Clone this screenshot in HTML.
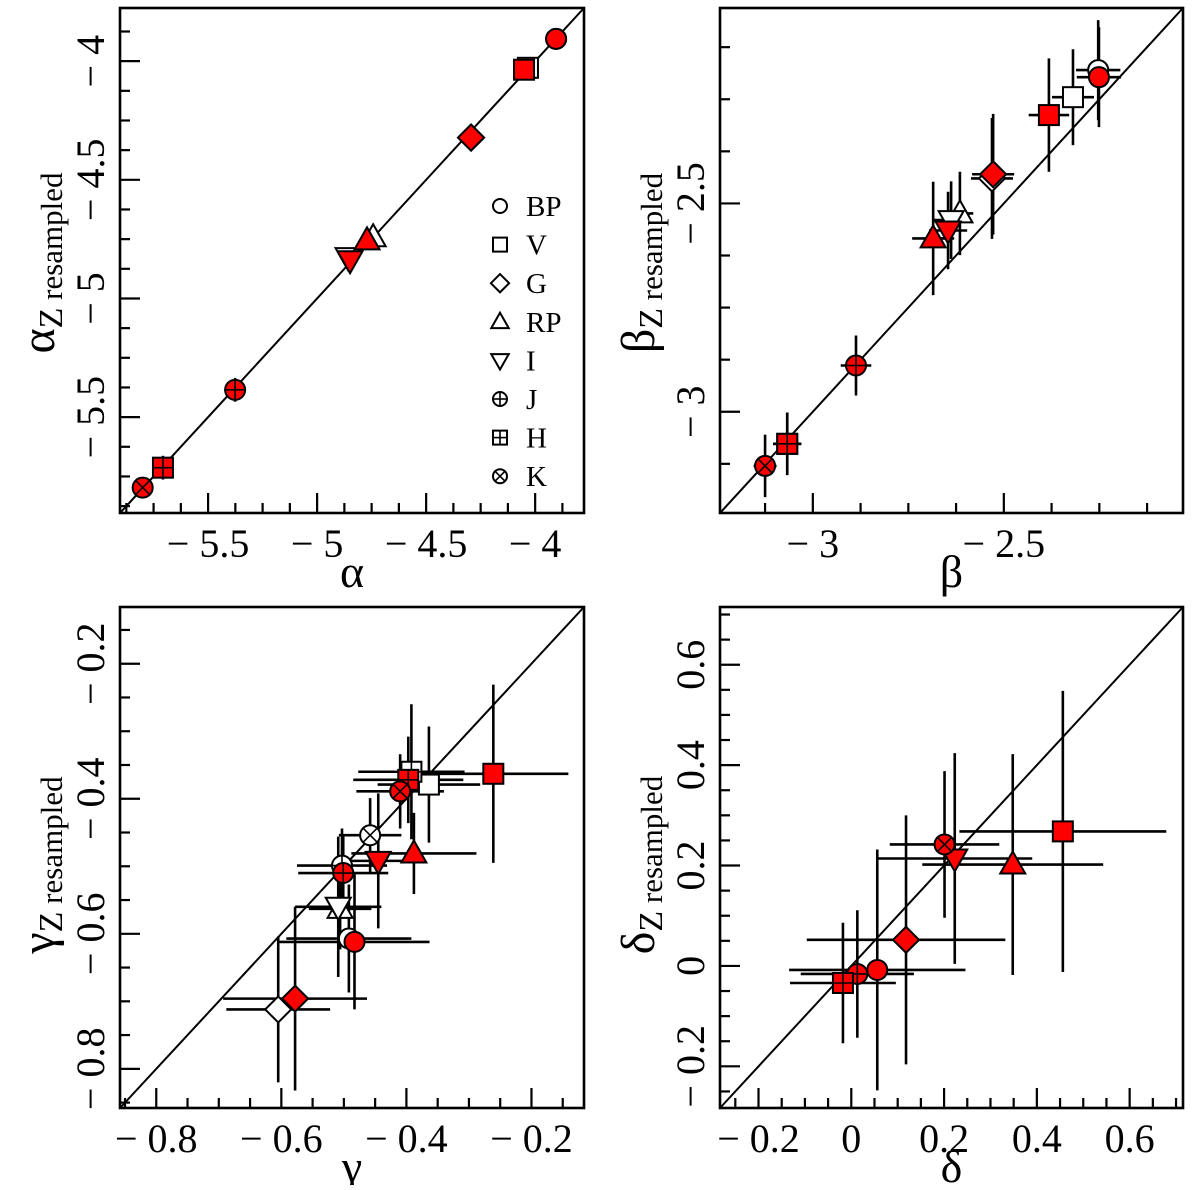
<!DOCTYPE html>
<html><head><meta charset="utf-8"><style>
html,body{margin:0;padding:0;background:#fff;}
svg, svg text{font-family:"Liberation Serif","Times New Roman",serif;}
</style></head><body>
<svg id="fig" width="1200" height="1185" viewBox="0 0 1200 1185" xmlns="http://www.w3.org/2000/svg" font-family="Liberation Serif, serif"></svg>
<script>
// ---- data: alpha panel ----
const aBand=["BP","BP","V","V","G","G","RP","RP","I","I","J","H","K"];
const aFill=[0,1,0,1,0,1,0,1,0,1,1,1,1];
const aX=[-3.904,-3.904,-4.033,-4.051,-4.294,-4.294,-4.743,-4.771,-4.858,-4.849,-5.376,-5.707,-5.80];
const aY=[-3.906,-3.906,-4.028,-4.036,-4.322,-4.322,-4.742,-4.755,-4.826,-4.839,-5.385,-5.713,-5.797];
const aXe=[0.02,0.02,0.02,0.02,0.02,0.02,0.02,0.02,0.02,0.02,0.05,0.05,0.03];
const aYe=[0.02,0.02,0.02,0.02,0.02,0.02,0.02,0.02,0.02,0.02,0.05,0.05,0.04];
// ---- data: beta panel ----
const bBand=["BP","BP","V","V","G","G","RP","RP","I","I","J","H","H","K"];
const bFill=[0,1,0,1,0,1,0,1,0,1,1,0,1,1];
const bX=[-2.253,-2.251,-2.319,-2.382,-2.531,-2.528,-2.615,-2.685,-2.638,-2.646,-2.887,-3.067,-3.067,-3.125];
const bY=[-2.180,-2.197,-2.245,-2.288,-2.44,-2.430,-2.524,-2.584,-2.540,-2.565,-2.889,-3.077,-3.077,-3.13];
const bXe=[0.058,0.058,0.055,0.053,0.055,0.055,0.035,0.055,0.05,0.05,0.04,0.037,0.037,0.03];
const bYe=[0.12,0.12,0.115,0.136,0.145,0.145,0.1,0.136,0.093,0.093,0.072,0.075,0.075,0.075];
// ---- data: gamma panel ----
const gBand=["V","V","H","H","K","K","RP","RP","I","I","J","J","BP","BP","G","G"];
const gFill=[0,1,0,1,0,1,0,1,0,1,0,1,0,1,0,1];
const gX=[-0.364,-0.261,-0.392,-0.397,-0.458,-0.410,-0.506,-0.388,-0.509,-0.445,-0.503,-0.501,-0.492,-0.483,-0.605,-0.578];
const gY=[-0.379,-0.363,-0.36,-0.372,-0.454,-0.389,-0.563,-0.481,-0.560,-0.492,-0.499,-0.51,-0.607,-0.612,-0.712,-0.696];
const gXe=[0.082,0.12,0.085,0.088,0.05,0.07,0.05,0.1,0.069,0.051,0.072,0.072,0.1,0.12,0.083,0.115];
const gYe=[0.086,0.132,0.1,0.064,0.055,0.055,0.06,0.06,0.104,0.1,0.055,0.055,0.08,0.1,0.108,0.136];
// ---- data: delta panel ----
const dBand=["V","RP","I","K","G","BP","J","H"];
const dFill=[1,1,1,1,1,1,1,1];
const dX=[0.456,0.348,0.223,0.201,0.118,0.056,0.013,-0.018];
const dY=[0.268,0.202,0.214,0.242,0.052,-0.008,-0.016,-0.034];
const dXe=[0.223,0.195,0.167,0.118,0.214,0.19,0.122,0.114];
const dYe=[0.28,0.22,0.21,0.146,0.248,0.24,0.127,0.12];
// axis configs
const aTicks=[-5.5,-5,-4.5,-4], aTickLbl=["− 5.5","− 5","− 4.5","− 4"];
const bTicks=[-3,-2.5], bTickLbl=["− 3","− 2.5"];
const gTicks=[-0.8,-0.6,-0.4,-0.2], gTickLbl=["− 0.8","− 0.6","− 0.4","− 0.2"];
const dTicks=[-0.2,0,0.2,0.4,0.6], dTickLbl=["− 0.2","0","0.2","0.4","0.6"];
const legendBands=["BP","V","G","RP","I","J","H","K"];

const NS="http://www.w3.org/2000/svg";
const FF="Liberation Serif, Times New Roman, serif";
const svg=document.getElementById('fig');
function mk(tag,attrs,parent){const e=document.createElementNS(NS,tag);for(const k in attrs)e.setAttribute(k,attrs[k]);if(tag==='text')e.setAttribute('font-family',FF);(parent||svg).appendChild(e);return e;}

function marker(g,type,cx,cy,fill,s){
  const st={fill:fill?"#ff0000":"#fff",stroke:"#000","stroke-width":2};
  let m;
  const r=s;
  if(type==="BP"||type==="J"||type==="K"){m=mk('circle',Object.assign({cx:cx,cy:cy,r:r},st),g);}
  else if(type==="V"||type==="H"){m=mk('rect',Object.assign({x:cx-r,y:cy-r,width:2*r,height:2*r},st),g);}
  else if(type==="G"){m=mk('polygon',Object.assign({points:`${cx},${cy-r*1.3} ${cx+r*1.3},${cy} ${cx},${cy+r*1.3} ${cx-r*1.3},${cy}`},st),g);}
  else if(type==="RP"){m=mk('polygon',Object.assign({points:`${cx},${cy-r*1.3} ${cx+r*1.25},${cy+r*0.9} ${cx-r*1.25},${cy+r*0.9}`},st),g);}
  else if(type==="I"){m=mk('polygon',Object.assign({points:`${cx},${cy+r*1.3} ${cx+r*1.25},${cy-r*0.9} ${cx-r*1.25},${cy-r*0.9}`},st),g);}
  
  
  const ls={stroke:"#000","stroke-width":1.6};
  if(type==="J"||type==="H"){mk('line',Object.assign({x1:cx-r,y1:cy,x2:cx+r,y2:cy},ls),g);mk('line',Object.assign({x1:cx,y1:cy-r,x2:cx,y2:cy+r},ls),g);}
  if(type==="K"){const d=r*0.7;mk('line',Object.assign({x1:cx-d,y1:cy-d,x2:cx+d,y2:cy+d},ls),g);mk('line',Object.assign({x1:cx-d,y1:cy+d,x2:cx+d,y2:cy-d},ls),g);}
}

function panel(o){
  const g=mk('g',{});
  
  
  const X=v=>o.x0+(v-o.lo)/(o.hi-o.lo)*(o.x1-o.x0);
  const Y=v=>o.y1-(v-o.lo)/(o.hi-o.lo)*(o.y1-o.y0);
  const diag=mk('line',{x1:o.x0,y1:o.y1,x2:o.x1,y2:o.y0,stroke:"#000","stroke-width":2},g);
  
  
  const start=Math.ceil((o.lo+1e-9)/o.minor)*o.minor;
  for(let v=start;v<o.hi;v+=o.minor){
    const isMaj=o.ticks.some(t=>Math.abs(t-v)<1e-6);
    const L=isMaj?20:10;
    mk('line',{x1:X(v),y1:o.y1,x2:X(v),y2:o.y1-L,stroke:"#000","stroke-width":2.2},g);
    mk('line',{x1:o.x0,y1:Y(v),x2:o.x0+L,y2:Y(v),stroke:"#000","stroke-width":2.2},g);
  }
  o.ticks.forEach((t,i)=>{
    const tx=mk('text',{x:X(t),y:o.y1+44,"text-anchor":"middle","font-size":40},g);
    tx.textContent=o.lbl[i];
    
    
    const ty=mk('text',{x:0,y:0,"text-anchor":"middle","font-size":40,transform:`translate(${o.x0-16},${Y(t)}) rotate(-90)`},g);
    ty.textContent=o.lbl[i];
    
    
  });
  const xt=mk('text',{x:(o.x0+o.x1)/2,y:o.y1+74,"text-anchor":"middle","font-size":46},g);
  xt.textContent=o.sym;
  
  
  const yt=mk('text',{x:0,y:0,"text-anchor":"middle","font-size":48,transform:`translate(${o.x0-66},${o.ytY}) rotate(-90)`},g);
  
  
  const t1=mk('tspan',{},yt);t1.textContent=o.sym;
  const t2=mk('tspan',{"font-size":34,dy:8},yt);t2.textContent="Z";
  const t3=mk('tspan',{"font-size":31},yt);t3.textContent=" resampled";
  const eg=mk('g',{},g);
  
  
  for(let i=0;i<o.xs.length;i++){
    mk('line',{x1:X(o.xs[i]-o.xe[i]),y1:Y(o.ys[i]),x2:X(o.xs[i]+o.xe[i]),y2:Y(o.ys[i]),stroke:"#000","stroke-width":2.6},eg);
    mk('line',{x1:X(o.xs[i]),y1:Y(o.ys[i]-o.ye[i]),x2:X(o.xs[i]),y2:Y(o.ys[i]+o.ye[i]),stroke:"#000","stroke-width":2.6},eg);
  }
  const mg=mk('g',{},g);
  
  
  for(let i=0;i<o.xs.length;i++){ if(!o.fill[i]) marker(mg,o.band[i],X(o.xs[i]),Y(o.ys[i]),0,10);}
  for(let i=0;i<o.xs.length;i++){ if(o.fill[i]) marker(mg,o.band[i],X(o.xs[i]),Y(o.ys[i]),1,10);}
  const fr=mk('rect',{x:o.x0,y:o.y0,width:o.x1-o.x0,height:o.y1-o.y0,fill:"none",stroke:"#000","stroke-width":2.6},g);
  
  
  return g;
}

panel({name:"alpha-panel",x0:120,x1:584,y0:8,y1:513,lo:-5.904,hi:-3.776,minor:0.125,ticks:aTicks,lbl:aTickLbl,sym:"α",ytY:263,band:aBand,fill:aFill,xs:aX,ys:aY,xe:aXe,ye:aYe});
panel({name:"beta-panel",x0:720,x1:1183,y0:8,y1:513,lo:-3.243,hi:-2.031,minor:0.125,ticks:bTicks,lbl:bTickLbl,sym:"β",ytY:263,band:bBand,fill:bFill,xs:bX,ys:bY,xe:bXe,ye:bYe});
panel({name:"gamma-panel",x0:120,x1:584,y0:607,y1:1108,lo:-0.858,hi:-0.116,minor:0.05,ticks:gTicks,lbl:gTickLbl,sym:"γ",ytY:865,band:gBand,fill:gFill,xs:gX,ys:gY,xe:gXe,ye:gYe});
panel({name:"delta-panel",x0:720,x1:1183,y0:607,y1:1108,lo:-0.283,hi:0.715,minor:0.05,ticks:dTicks,lbl:dTickLbl,sym:"δ",ytY:865,band:dBand,fill:dFill,xs:dX,ys:dY,xe:dXe,ye:dYe});

const lg=mk('g',{});


legendBands.forEach((b,i)=>{
  const yy=206+i*38.6;
  const eg=mk('g',{},lg);
  
  
  marker(eg,b,500,yy,0,7);
  const t=mk('text',{x:526,y:yy+10,"font-size":29},eg);
  t.textContent=b;
});
</script>
</body></html>
